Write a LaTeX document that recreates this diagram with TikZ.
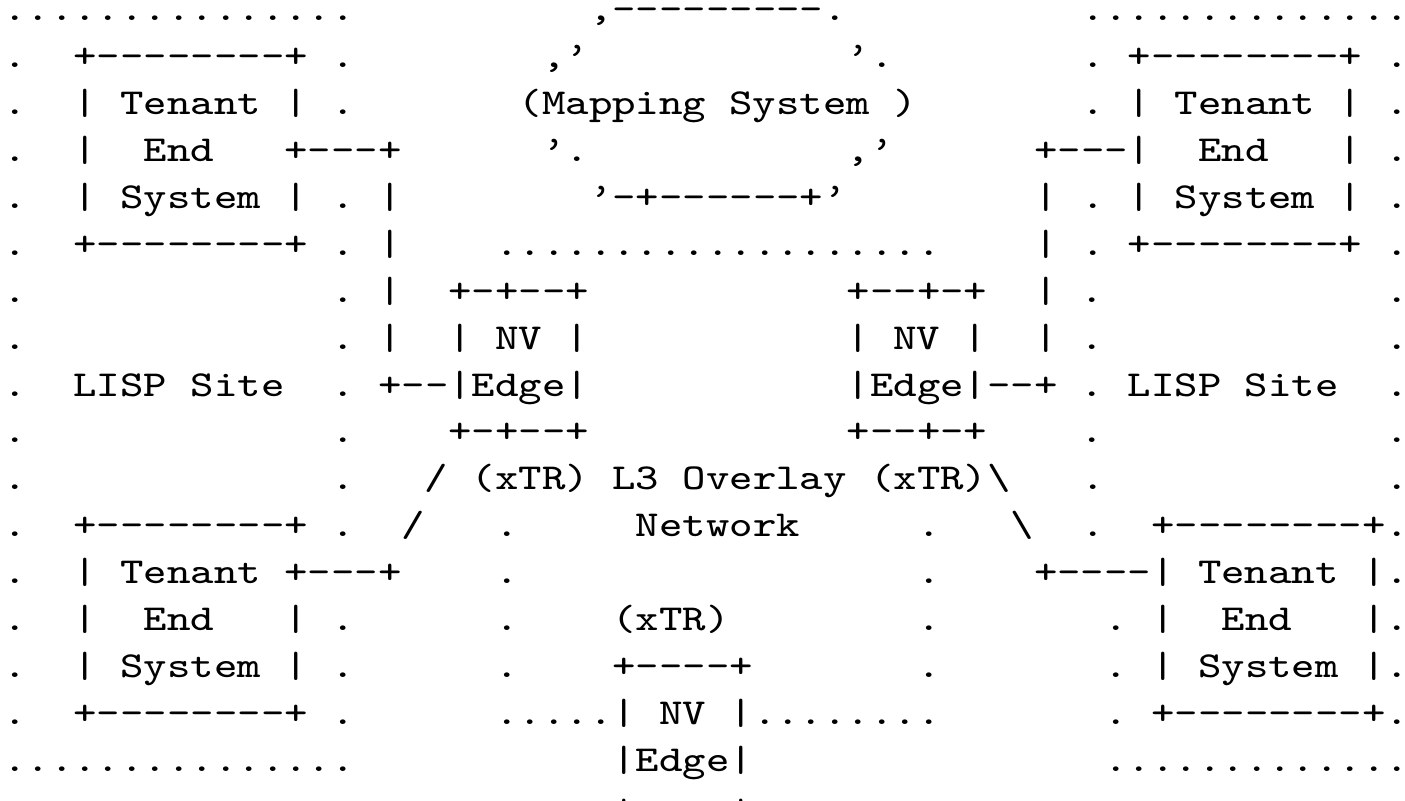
\documentclass[tikz,border=0pt]{standalone}
\usepackage{graphicx}
\usepackage{fontspec}
\setmonofont{Latin Modern Mono}
\newcommand{\asline}[1]{\scalebox{1.222}[1]{#1}}
\tikzset{
  asc/.style={anchor=base west, inner sep=0pt, outer sep=0pt, text=black,
    font=\ttfamily\fontsize{9.13pt}{11.735pt}\selectfont}
}
\begin{document}
\begin{tikzpicture}
\fill[white] (0,0) rectangle (351.25pt,-200.25pt);
\useasboundingbox (0,0) rectangle (351.25pt,-200.25pt);
\node[asc] (line0)  at (0.82pt,-5.125pt)   {\asline{...............~~~~~~~~~~,---------.~~~~~~~~~~..............}};
\node[asc] (line1)  at (0.82pt,-16.86pt)   {\asline{.~~+--------+~.~~~~~~~~,’~~~~~~~~~~~’.~~~~~~~~.~+--------+~.}};
\node[asc] (line2)  at (0.82pt,-28.595pt)  {\asline{.~~|~Tenant~|~.~~~~~~~(Mapping~System~)~~~~~~~.~|~Tenant~|~.}};
\node[asc] (line3)  at (0.82pt,-40.33pt)   {\asline{.~~|~~End~~~+---+~~~~~~’.~~~~~~~~~~~,’~~~~~~+---|~~End~~~|~.}};
\node[asc] (line4)  at (0.82pt,-52.065pt)  {\asline{.~~|~System~|~.~|~~~~~~~~’-+------+’~~~~~~~~|~.~|~System~|~.}};
\node[asc] (line5)  at (0.82pt,-63.8pt)    {\asline{.~~+--------+~.~|~~~~...................~~~~|~.~+--------+~.}};
\node[asc] (line6)  at (0.82pt,-75.535pt)  {\asline{.~~~~~~~~~~~~~.~|~~+-+--+~~~~~~~~~~~+--+-+~~|~.~~~~~~~~~~~~.}};
\node[asc] (line7)  at (0.82pt,-87.27pt)   {\asline{.~~~~~~~~~~~~~.~|~~|~NV~|~~~~~~~~~~~|~NV~|~~|~.~~~~~~~~~~~~.}};
\node[asc] (line8)  at (0.82pt,-99.005pt)  {\asline{.~~LISP~Site~~.~+--|Edge|~~~~~~~~~~~|Edge|--+~.~LISP~Site~~.}};
\node[asc] (line9)  at (0.82pt,-110.74pt)  {\asline{.~~~~~~~~~~~~~.~~~~+-+--+~~~~~~~~~~~+--+-+~~~~.~~~~~~~~~~~~.}};
\node[asc] (line10) at (0.82pt,-122.475pt) {\asline{.~~~~~~~~~~~~~.~~~/~(xTR)~L3~Overlay~(xTR)\textbackslash~~~.~~~~~~~~~~~~.}};
\node[asc] (line11) at (0.82pt,-134.21pt)  {\asline{.~~+--------+~.~~/~~~.~~~~~Network~~~~~.~~~\textbackslash~~.~~+--------+.}};
\node[asc] (line12) at (0.82pt,-145.945pt) {\asline{.~~|~Tenant~+---+~~~~.~~~~~~~~~~~~~~~~~.~~~~+----|~Tenant~|.}};
\node[asc] (line13) at (0.82pt,-157.68pt)  {\asline{.~~|~~End~~~|~.~~~~~~.~~~~(xTR)~~~~~~~~.~~~~~~~.~|~~End~~~|.}};
\node[asc] (line14) at (0.82pt,-169.415pt) {\asline{.~~|~System~|~.~~~~~~.~~~~+----+~~~~~~~.~~~~~~~.~|~System~|.}};
\node[asc] (line15) at (0.82pt,-181.15pt)  {\asline{.~~+--------+~.~~~~~~.....|~NV~|........~~~~~~~.~+--------+.}};
\node[asc] (line16) at (0.82pt,-192.885pt) {\asline{...............~~~~~~~~~~~|Edge|~~~~~~~~~~~~~~~.............}};
\node[asc] (line17) at (153.18pt,-204.62pt) {\asline{+----+}};
\end{tikzpicture}
\end{document}
